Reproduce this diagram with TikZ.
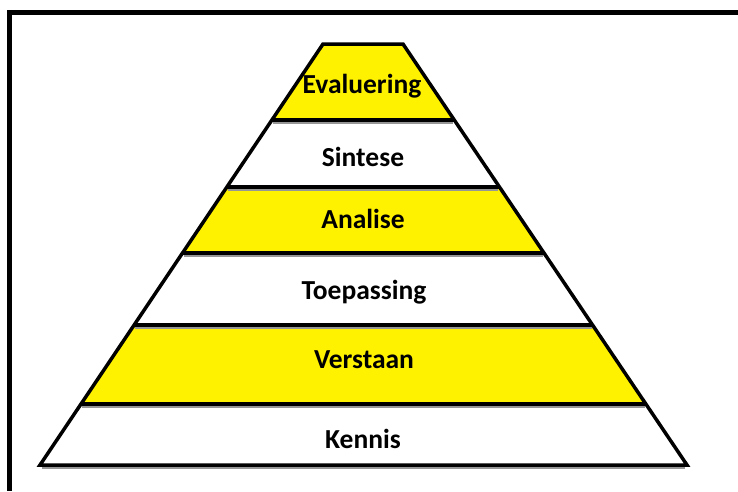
\documentclass[tikz,border=0pt]{standalone}
\usepackage{fontspec}
\setmainfont{Carlito}
\usetikzlibrary{calc}
\definecolor{pyryellow}{RGB}{255,242,0}
\definecolor{shadowgray}{RGB}{150,150,150}
\tikzset{
  frameline/.style={line width=4.5pt, black},
  edgeline/.style={line width=3.5pt, black, line join=miter},
  divline/.style={line width=3.5pt, black},
  shadowline/.style={line width=2pt, shadowgray},
  yellowband/.style={fill=pyryellow},
  label/.style={font=\fontsize{27.5}{31}\selectfont\bfseries, text=black, anchor=base, inner sep=0pt}
}
\begin{document}
\begin{tikzpicture}[x=1pt,y=-1pt]
\useasboundingbox (0,0) rectangle (738,491);
\fill[white] (0,0) rectangle (738,491);
% frame
\draw[frameline] (7,12.5) -- (738,12.5);
\draw[frameline] (9.5,10.25) -- (9.5,491);
% pyramid corners
\coordinate (TL) at (323,44);
\coordinate (TR) at (403,44);
\coordinate (BL) at (40,465);
\coordinate (BR) at (687,465);
% boundary points
\foreach \n/\t in {a/0.1805, b/0.3397, c/0.4964, d/0.6675, e/0.8551}{
  \coordinate (L\n) at ($(TL)!\t!(BL)$);
  \coordinate (R\n) at ($(TR)!\t!(BR)$);
}
% yellow bands
\fill[yellowband] (TL) -- (TR) -- (Ra) -- (La) -- cycle;
\fill[yellowband] (Lb) -- (Rb) -- (Rc) -- (Lc) -- cycle;
\fill[yellowband] (Ld) -- (Rd) -- (Re) -- (Le) -- cycle;
% shadows under dividers
\foreach \n in {a,b,c,d,e}{
  \draw[shadowline] ($(L\n)+(1,3)$) -- ($(R\n)+(-1,3)$);
}
\draw[shadowline] ($(BL)+(2,3)$) -- ($(BR)+(-2,3)$);
% dividers
\foreach \n in {a,b,c,d,e}{
  \draw[divline] (L\n) -- (R\n);
}
% outline
\draw[edgeline] (TL) -- (TR) -- (BR) -- (BL) -- cycle;
% labels
\node[label] (evaluering) at (362,93) {Evaluering};
\node[label] (sintese) at (363,166) {Sintese};
\node[label] (analise) at (363,228) {Analise};
\node[label] (toepassing) at (364,299) {Toepassing};
\node[label] (verstaan) at (364,368) {Verstaan};
\node[label] (kennis) at (363,448) {Kennis};
\end{tikzpicture}
\end{document}
